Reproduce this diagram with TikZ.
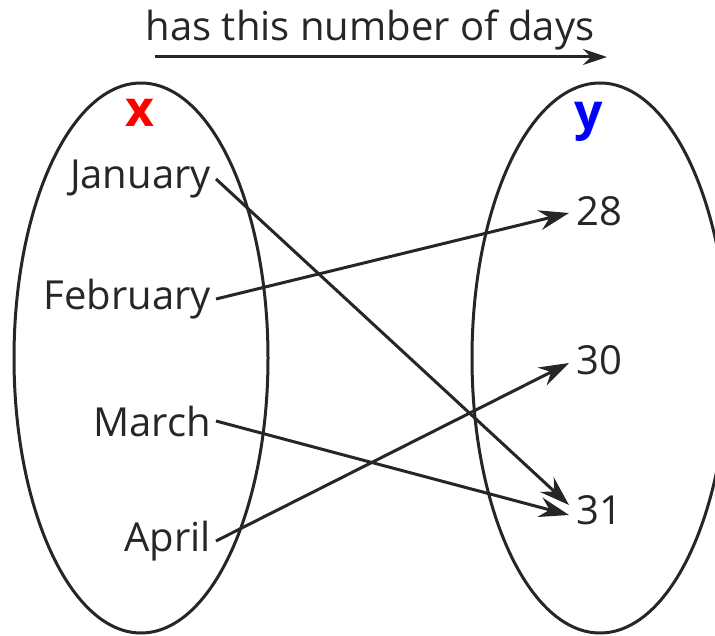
\documentclass[tikz,border=0pt]{standalone}
\usepackage{fontspec}
\setmainfont{Open Sans}
\usetikzlibrary{arrows.meta, math}
\definecolor{myred}{RGB}{255, 0, 0}
\definecolor{myblue}{RGB}{0, 0, 255}

\tikzset{
  lbl/.style={font=\fontsize{40}{46}\selectfont, text=black!85, inner sep=5pt},
  num/.style={font=\fontsize{40}{46}\selectfont, text=black!85, inner sep=7pt, anchor=west},
  maparrow/.style={-{Stealth[length=30pt, width=20pt, inset=10pt]}, line width=3, color=black!85},
}

\begin{document}
\begin{tikzpicture}[x=1pt, y=-1pt]
\tikzmath{
\rx=127;
\ry=275;
\cy=358;
\xl=141;
\xr=600;
}
\useasboundingbox (0,0) rectangle (715,636);
\clip (0,0) rectangle (715,636);

%the two sets:
\draw[line width=3, color=black!85] (\xl,\cy) ellipse [x radius=\rx, y radius=\ry];
\draw[line width=3, color=black!85] (\xr,\cy) ellipse [x radius=\rx+1, y radius=\ry];

%title and its arrow:
\node[lbl] (title) at (370,30) {has this number of days};
\coordinate (ts) at (155,57);
\coordinate (te) at (607,57);
\draw[-{Stealth[length=24pt, width=16pt, inset=8pt]}, line width=3, color=black!85] (ts) -- (te);

%x and y:
\node[font=\fontsize{50}{52}\selectfont\bfseries, text=myred] (xname) at (140,113) {x};
\node[font=\fontsize{50}{52}\selectfont\bfseries, text=myblue] (yname) at (589,122) {y};

%months:
\node[lbl, anchor=east] (jan) at (216,179) {January};
\node[lbl, anchor=east] (feb) at (216,299) {February};
\node[lbl, anchor=east] (mar) at (216,421) {March};
\node[lbl, anchor=east] (apr) at (216,541) {April};

%days:
\node[num] (d28) at (569,211) {28};
\node[num] (d30) at (569,360) {30};
\node[num] (d31) at (569,510) {31};

\draw[maparrow] (jan.east) -- ([yshift=5pt]d31.west);
\draw[maparrow] (feb.east) -- ([yshift=-2pt]d28.west);
\draw[maparrow] (mar.east) -- ([yshift=-5pt]d31.west);
\draw[maparrow] (apr.east) -- ([yshift=-3pt]d30.west);
\end{tikzpicture}
\end{document}
